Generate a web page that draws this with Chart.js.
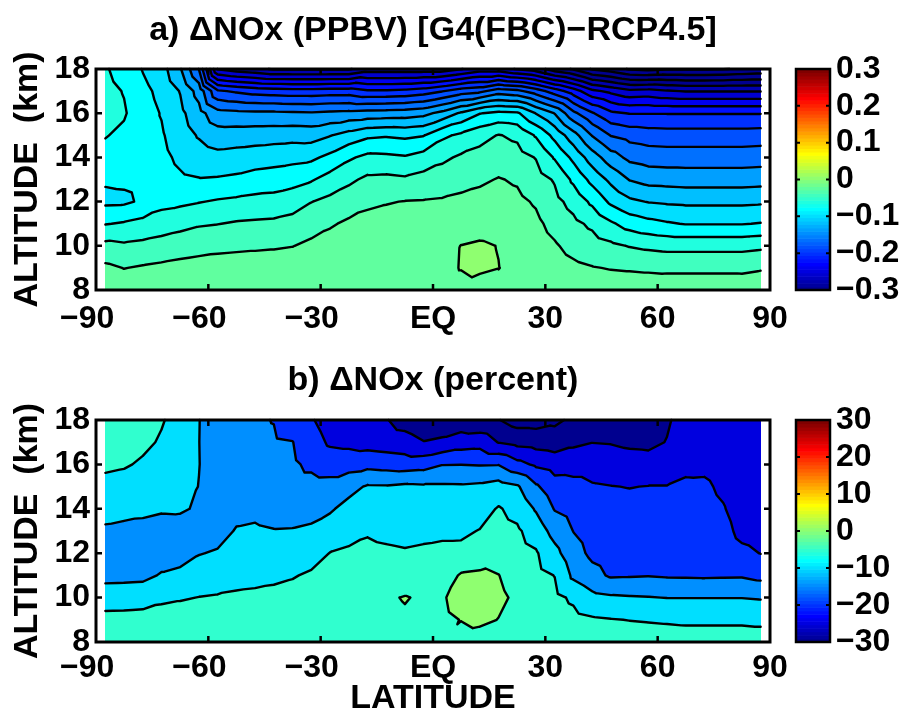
<!DOCTYPE html>
<html>
<head>
<meta charset="utf-8">
<title>NOx change</title>
<script src="https://cdn.jsdelivr.net/npm/chart.js@4.4.1/dist/chart.umd.min.js"></script>
<style>
  html, body { margin: 0; padding: 0; background: #fff; }
  #panels { position: relative; width: 903px; height: 713px; }
  #panels canvas { position: absolute; left: 0; }
</style>
</head>
<body>
<div id="panels">
  <canvas id="ppbvChart" width="903" height="356" style="top:0"></canvas>
  <canvas id="pctChart" width="903" height="357" style="top:356px"></canvas>
</div>
<script>
// model grid
var latitudes = [-87.5, -82.5, -77.5, -72.5, -67.5, -62.5, -57.5, -52.5, -47.5, -42.5, -37.5, -32.5,
  -27.5, -22.5, -17.5, -12.5, -7.5, -2.5, 2.5, 7.5, 12.5, 17.5, 22.5, 27.5,
  32.5, 37.5, 42.5, 47.5, 52.5, 57.5, 62.5, 67.5, 72.5, 77.5, 82.5, 87.5];
var altitudes = [8, 9, 10, 11, 12, 13, 14, 15, 16, 17, 18];

// a) NOx change in ppbv, one row per latitude, altitudes 8..18 km
var noxPpbv = [
  [-0.006, -0.016, -0.0345, -0.061, -0.084, -0.078, -0.066, -0.059, -0.052, -0.054, -0.058],
  [-0.008, -0.0205, -0.037, -0.058, -0.0835, -0.077, -0.07, -0.064, -0.058, -0.061, -0.068],
  [-0.007, -0.018, -0.035, -0.054, -0.077, -0.075, -0.073, -0.072, -0.072, -0.075, -0.081],
  [-0.006, -0.016, -0.032, -0.05, -0.066, -0.071, -0.075, -0.078, -0.081, -0.085, -0.092],
  [-0.005, -0.014, -0.029, -0.046, -0.064, -0.077, -0.084, -0.09, -0.095, -0.101, -0.118],
  [-0.004, -0.012, -0.027, -0.042, -0.061, -0.079, -0.09, -0.102, -0.113, -0.128, -0.161],
  [-0.004, -0.011, -0.025, -0.0405, -0.058, -0.078, -0.094, -0.111, -0.133, -0.177, -0.261],
  [-0.004, -0.01, -0.024, -0.038, -0.056, -0.076, -0.092, -0.11, -0.135, -0.183, -0.27],
  [-0.004, -0.01, -0.023, -0.037, -0.054, -0.072, -0.09, -0.109, -0.136, -0.188, -0.275],
  [-0.004, -0.01, -0.022, -0.036, -0.053, -0.07, -0.088, -0.108, -0.136, -0.19, -0.282],
  [-0.004, -0.01, -0.0205, -0.033, -0.049, -0.067, -0.086, -0.107, -0.137, -0.192, -0.282],
  [-0.003, -0.008, -0.016, -0.028, -0.0405, -0.062, -0.084, -0.108, -0.138, -0.192, -0.282],
  [-0.003, -0.007, -0.013, -0.022, -0.035, -0.052, -0.075, -0.101, -0.136, -0.19, -0.282],
  [-0.003, -0.006, -0.011, -0.017, -0.029, -0.044, -0.063, -0.092, -0.134, -0.19, -0.282],
  [-0.003, -0.006, -0.01, -0.015, -0.023, -0.036, -0.055, -0.084, -0.132, -0.197, -0.27],
  [-0.002, -0.005, -0.009, -0.014, -0.021, -0.035, -0.056, -0.082, -0.131, -0.197, -0.27],
  [-0.002, -0.005, -0.009, -0.014, -0.0195, -0.037, -0.058, -0.084, -0.13, -0.195, -0.27],
  [-0.001, -0.004, -0.008, -0.013, -0.019, -0.033, -0.052, -0.081, -0.126, -0.19, -0.27],
  [-0.004, -0.003, -0.006, -0.011, -0.018, -0.03, -0.044, -0.064, -0.114, -0.181, -0.27],
  [-0.004, 0.0005, 0.0003, -0.008, -0.016, -0.026, -0.037, -0.056, -0.097, -0.17, -0.261],
  [-0.008, 0.003, 0.0025, -0.008, -0.014, -0.023, -0.033, -0.047, -0.081, -0.165, -0.25],
  [-0.004, 0.0003, -0.0005, -0.009, -0.014, -0.019, -0.029, -0.039, -0.075, -0.15, -0.25],
  [-0.003, -0.004, -0.007, -0.011, -0.016, -0.022, -0.032, -0.044, -0.077, -0.155, -0.262],
  [-0.004, -0.007, -0.011, -0.016, -0.022, -0.031, -0.041, -0.062, -0.101, -0.17, -0.27],
  [-0.006, -0.011, -0.018, -0.026, -0.034, -0.042, -0.062, -0.086, -0.121, -0.19, -0.29],
  [-0.008, -0.016, -0.026, -0.035, -0.047, -0.064, -0.085, -0.112, -0.155, -0.21, -0.302],
  [-0.008, -0.019, -0.031, -0.044, -0.064, -0.086, -0.11, -0.141, -0.178, -0.235, -0.322],
  [-0.009, -0.021, -0.036, -0.057, -0.084, -0.105, -0.131, -0.161, -0.196, -0.245, -0.33],
  [-0.009, -0.022, -0.041, -0.068, -0.096, -0.121, -0.145, -0.167, -0.201, -0.255, -0.342],
  [-0.009, -0.023, -0.044, -0.074, -0.101, -0.127, -0.149, -0.17, -0.201, -0.253, -0.345],
  [-0.008, -0.024, -0.046, -0.078, -0.103, -0.128, -0.15, -0.171, -0.201, -0.258, -0.342],
  [-0.008, -0.024, -0.046, -0.081, -0.104, -0.129, -0.15, -0.171, -0.201, -0.261, -0.342],
  [-0.008, -0.024, -0.046, -0.081, -0.104, -0.129, -0.15, -0.171, -0.201, -0.261, -0.342],
  [-0.008, -0.024, -0.046, -0.081, -0.104, -0.129, -0.15, -0.171, -0.201, -0.261, -0.341],
  [-0.009, -0.024, -0.046, -0.081, -0.104, -0.129, -0.15, -0.171, -0.201, -0.261, -0.338],
  [-0.006, -0.022, -0.044, -0.079, -0.103, -0.128, -0.149, -0.17, -0.201, -0.261, -0.335]
];

// b) NOx change in percent, same layout
var noxPercent = [
  [-1.5, -3.5, -7.3, -11.5, -12.0, -10.6, -8.6, -6.3, -4.2, -3.2, -2.8],
  [-1.5, -3.4, -7.2, -11.4, -12.2, -11.0, -8.8, -6.6, -4.6, -3.6, -3.2],
  [-1.5, -3.2, -7.0, -11.2, -12.3, -11.1, -9.2, -7.2, -5.5, -4.2, -3.8],
  [-1.4, -2.9, -5.9, -9.6, -12.2, -11.5, -9.6, -8.0, -6.9, -5.4, -4.7],
  [-1.3, -2.8, -5.4, -8.8, -12.0, -11.8, -9.5, -8.3, -7.6, -7.0, -6.4],
  [-1.2, -2.6, -4.9, -7.8, -10.2, -11.4, -10.5, -10.1, -9.9, -9.95, -9.9],
  [-1.1, -2.5, -4.6, -7.4, -9.6, -11.5, -12.2, -12.5, -12.5, -12.5, -12.5],
  [-1.0, -2.4, -4.3, -6.5, -8.6, -9.7, -11.2, -12.5, -13.3, -13.8, -14.0],
  [-1.0, -2.3, -4.1, -6.2, -8.0, -9.4, -11.0, -12.8, -13.8, -14.4, -14.6],
  [-0.9, -2.2, -3.9, -5.8, -7.8, -9.8, -11.8, -13.2, -14.0, -14.6, -15.1],
  [-0.9, -2.0, -3.5, -5.3, -7.6, -9.7, -12.0, -13.6, -14.4, -14.9, -17.0],
  [-0.8, -1.8, -3.0, -4.4, -6.8, -9.2, -11.6, -13.6, -15.8, -17.6, -19.5],
  [-0.8, -1.6, -2.6, -3.7, -4.9, -7.7, -10.6, -13.5, -17.0, -20.8, -22.5],
  [-0.7, -1.5, -2.4, -3.4, -4.4, -6.3, -8.4, -11.6, -17.0, -21.3, -23.5],
  [-0.7, -1.4, -2.2, -3.1, -4.0, -5.4, -7.6, -9.5, -16.5, -22.0, -24.5],
  [-0.6, -1.3, -0.6, -3.0, -4.3, -6.0, -7.8, -9.6, -17.0, -22.5, -24.7],
  [-0.6, -0.6, 0.25, -3.0, -4.6, -6.3, -8.0, -9.0, -17.5, -23.0, -27.0],
  [-0.5, -1.1, -0.6, -3.0, -4.3, -6.0, -7.7, -9.3, -17.0, -24.8, -28.5],
  [-0.4, -0.8, -0.4, -2.5, -4.0, -5.8, -7.5, -9.3, -15.2, -24.0, -28.5],
  [-1.5, 0.1, 1.5, 0.5, -3.9, -5.8, -7.6, -9.4, -15.1, -22.5, -28.0],
  [-2.0, 0.9, 2.0, 0.9, -3.0, -4.8, -7.0, -9.0, -15.3, -22.0, -29.0],
  [-1.2, -0.1, 0.9, 0.1, -2.0, -3.4, -4.6, -8.0, -15.2, -25.2, -29.8],
  [-1.2, -1.5, -0.8, -2.0, -3.2, -4.3, -6.5, -9.4, -18.5, -26.5, -32.0],
  [-1.3, -2.0, -2.8, -3.6, -4.5, -7.2, -10.5, -14.3, -20.8, -27.0, -32.0],
  [-1.8, -2.7, -3.8, -5.1, -8.5, -11.8, -15.3, -18.0, -22.0, -27.5, -31.0],
  [-2.2, -3.6, -5.8, -11.0, -13.2, -15.1, -16.8, -18.6, -21.8, -26.0, -29.0],
  [-2.4, -4.4, -8.6, -13.5, -16.0, -17.0, -18.0, -19.6, -21.8, -25.1, -27.5],
  [-2.5, -4.8, -9.3, -15.6, -17.0, -17.8, -18.8, -19.9, -22.2, -25.3, -27.5],
  [-2.6, -5.1, -9.6, -15.4, -17.2, -18.0, -18.9, -20.1, -22.6, -26.0, -28.0],
  [-2.8, -5.3, -9.8, -15.2, -17.3, -18.0, -18.9, -19.9, -23.0, -26.2, -28.5],
  [-2.9, -5.5, -10.1, -15.5, -17.4, -18.1, -19.0, -19.9, -22.0, -24.8, -25.6],
  [-3.0, -5.7, -10.1, -15.6, -17.2, -17.9, -18.6, -19.4, -20.8, -22.0, -23.0],
  [-3.0, -5.7, -10.1, -15.7, -17.2, -17.9, -18.6, -19.3, -20.9, -22.2, -23.2],
  [-3.0, -5.7, -10.1, -15.6, -17.5, -18.6, -19.7, -20.8, -21.8, -22.6, -23.4],
  [-3.0, -5.7, -10.1, -15.5, -19.0, -21.2, -22.0, -22.6, -23.0, -23.5, -24.0],
  [-3.0, -5.9, -10.4, -16.4, -20.1, -21.8, -22.5, -23.0, -23.4, -23.8, -24.2]
];

var ppbvLevels = [-0.34, -0.32, -0.30, -0.28, -0.26, -0.24, -0.22, -0.20, -0.18, -0.16, -0.14,
  -0.12, -0.10, -0.08, -0.06, -0.04, -0.02, 0];
var percentLevels = [-35, -30, -25, -20, -15, -10, -5, 0];
var ppbvLimits = [-0.3, 0.3];
var percentLimits = [-30, 30];

var latTicks = [-90, -60, -30, 0, 30, 60, 90];
var altTicks = [8, 10, 12, 14, 16, 18];
var ppbvTicks = [-0.3, -0.2, -0.1, 0, 0.1, 0.2, 0.3];
var percentTicks = [-30, -20, -10, 0, 10, 20, 30];

var FONT = '"Liberation Sans", Arial, Helvetica, sans-serif';
var MINUS = '\u2212';

Chart.defaults.color = '#000';
Chart.defaults.font.family = FONT;
Chart.defaults.font.weight = 'bold';

// MATLAB style 64 entry jet colormap, row k = 1..64
function jetRow(k) {
  var r = k <= 24 ? 0 : k <= 40 ? (k - 24) / 16 : k <= 56 ? 1 : 1 - (k - 56) / 16;
  var g = k <= 8 ? 0 : k <= 24 ? (k - 8) / 16 : k <= 40 ? 1 : k <= 56 ? (56 - k) / 16 : 0;
  var b = k <= 8 ? (k + 8) / 16 : k <= 24 ? 1 : k <= 40 ? (40 - k) / 16 : 0;
  return [Math.round(r * 255), Math.round(g * 255), Math.round(b * 255)];
}

function jetColor(value, limits) {
  var k = Math.floor((value - limits[0]) / (limits[1] - limits[0]) * 64) + 1;
  return jetRow(Math.min(64, Math.max(1, k)));
}

// filled bands, linear inside the two triangles of every grid cell
function drawField(chart, field, levels, limits) {
  var area = chart.chartArea, xs = chart.scales.x, ys = chart.scales.y;
  var x0 = Math.round(area.left), y0 = Math.round(area.top);
  var w = Math.round(area.right) - x0, h = Math.round(area.bottom) - y0;
  var off = document.createElement('canvas');
  off.width = w; off.height = h;
  var octx = off.getContext('2d');
  var img = octx.createImageData(w, h);
  var colors = levels.map(function(l) { return jetColor(l, limits); });
  var latMin = latitudes[0], latMax = latitudes[latitudes.length - 1];
  var dLat = latitudes[1] - latitudes[0], dAlt = altitudes[1] - altitudes[0];
  var nLat = latitudes.length, nAlt = altitudes.length;

  for (var py = 0; py < h; py++) {
    var alt = ys.getValueForPixel(y0 + py + 0.5);
    var fyAll = (alt - altitudes[0]) / dAlt;
    var j = Math.min(Math.max(Math.floor(fyAll), 0), nAlt - 2);
    var fy = Math.min(Math.max(fyAll - j, 0), 1);
    for (var px = 0; px < w; px++) {
      var lat = xs.getValueForPixel(x0 + px + 0.5);
      if (lat < latMin || lat > latMax) continue;
      var fxAll = (lat - latMin) / dLat;
      var i = Math.min(Math.floor(fxAll), nLat - 2);
      var fx = fxAll - i;
      var za = field[i][j], zb = field[i + 1][j], zc = field[i + 1][j + 1], zd = field[i][j + 1];
      var z = fx >= fy ? za + fx * (zb - za) + fy * (zc - zb)
                       : za + fy * (zd - za) + fx * (zc - zd);
      var k = 0;
      while (k < levels.length - 1 && z >= levels[k + 1]) k++;
      var c = colors[k], p = (py * w + px) * 4;
      img.data[p] = c[0]; img.data[p + 1] = c[1]; img.data[p + 2] = c[2]; img.data[p + 3] = 255;
    }
  }
  octx.putImageData(img, 0, 0);
  chart.ctx.drawImage(off, x0, y0);
}

function edgePoint(u, v, level) {
  var t = (level - u.z) / (v.z - u.z);
  return { x: u.x + t * (v.x - u.x), y: u.y + t * (v.y - u.y) };
}

function triSegment(ctx, xs, ys, p, q, r, level) {
  var pts = [];
  [[p, q], [q, r], [r, p]].forEach(function(e) {
    if ((e[0].z >= level) !== (e[1].z >= level)) pts.push(edgePoint(e[0], e[1], level));
  });
  if (pts.length !== 2) return;
  ctx.moveTo(xs.getPixelForValue(pts[0].x), ys.getPixelForValue(pts[0].y));
  ctx.lineTo(xs.getPixelForValue(pts[1].x), ys.getPixelForValue(pts[1].y));
}

// contour lines on the same triangles
function drawContours(chart, field, levels) {
  var ctx = chart.ctx, xs = chart.scales.x, ys = chart.scales.y;
  ctx.save();
  ctx.beginPath();
  levels.forEach(function(level) {
    for (var i = 0; i < latitudes.length - 1; i++) {
      for (var j = 0; j < altitudes.length - 1; j++) {
        var a = { x: latitudes[i], y: altitudes[j], z: field[i][j] };
        var b = { x: latitudes[i + 1], y: altitudes[j], z: field[i + 1][j] };
        var c = { x: latitudes[i + 1], y: altitudes[j + 1], z: field[i + 1][j + 1] };
        var d = { x: latitudes[i], y: altitudes[j + 1], z: field[i][j + 1] };
        triSegment(ctx, xs, ys, a, b, c, level);
        triSegment(ctx, xs, ys, a, c, d, level);
      }
    }
  });
  ctx.strokeStyle = '#000';
  ctx.lineWidth = 2.4;
  ctx.lineCap = 'round';
  ctx.lineJoin = 'round';
  ctx.stroke();
  ctx.restore();
}

// box with inward ticks on all four sides
function drawFrame(chart) {
  var a = chart.chartArea, ctx = chart.ctx, xs = chart.scales.x, ys = chart.scales.y;
  ctx.save();
  ctx.strokeStyle = '#000';
  ctx.lineWidth = 2.5;
  ctx.beginPath();
  latTicks.forEach(function(v) {
    if (v <= xs.min || v >= xs.max) return;
    var x = xs.getPixelForValue(v);
    ctx.moveTo(x, a.bottom); ctx.lineTo(x, a.bottom - 6);
    ctx.moveTo(x, a.top); ctx.lineTo(x, a.top + 6);
  });
  altTicks.forEach(function(v) {
    if (v <= ys.min || v >= ys.max) return;
    var y = ys.getPixelForValue(v);
    ctx.moveTo(a.left, y); ctx.lineTo(a.left + 6, y);
    ctx.moveTo(a.right, y); ctx.lineTo(a.right - 6, y);
  });
  ctx.stroke();
  ctx.lineWidth = 3;
  ctx.strokeRect(a.left, a.top, a.right - a.left, a.bottom - a.top);
  ctx.restore();
}

function drawColorbar(chart, limits, ticks) {
  var cb = chart.scales.cb, ctx = chart.ctx;
  var left = chart.chartArea.right + 26, width = 34;
  var span = limits[1] - limits[0];
  ctx.save();
  for (var k = 0; k < 64; k++) {
    var yLow = cb.getPixelForValue(limits[0] + k / 64 * span);
    var yHigh = cb.getPixelForValue(limits[0] + (k + 1) / 64 * span);
    var c = jetRow(k + 1);
    ctx.fillStyle = 'rgb(' + c.join(',') + ')';
    ctx.fillRect(left, yHigh, width, yLow - yHigh + 0.6);
  }
  var top = cb.getPixelForValue(limits[1]), bottom = cb.getPixelForValue(limits[0]);
  ctx.strokeStyle = '#000';
  ctx.lineWidth = 2;
  ctx.beginPath();
  ticks.forEach(function(v) {
    if (v <= limits[0] || v >= limits[1]) return;
    var y = cb.getPixelForValue(v);
    ctx.moveTo(left, y); ctx.lineTo(left + 4, y);
    ctx.moveTo(left + width, y); ctx.lineTo(left + width - 4, y);
  });
  ctx.stroke();
  ctx.lineWidth = 2.5;
  ctx.strokeRect(left, top, width, bottom - top);
  ctx.restore();
}

function contourPlugin(field, levels, limits, cbTicks) {
  return {
    id: 'contourField',
    beforeDatasetsDraw: function(chart) {
      drawField(chart, field, levels, limits);
      drawContours(chart, field, levels);
    },
    afterDatasetsDraw: function(chart) {
      drawFrame(chart);
      drawColorbar(chart, limits, cbTicks);
    }
  };
}

function fixedTicks(values) {
  return function(scale) {
    scale.ticks = values.map(function(v) { return { value: v }; });
  };
}

// fixed side width; the label overhang must not squeeze the plot vertically
function fixedWidth(width) {
  return function(scale) {
    scale.width = width;
    scale.paddingTop = 0;
    scale.paddingBottom = 0;
  };
}

function latLabel(v) {
  if (v === 0) return 'EQ';
  // digits sit centred on the tick, the minus hangs to the left
  return v < 0 ? MINUS + (-v) + '  ' : String(v);
}

function makePanel(canvasId, cfg) {
  return new Chart(document.getElementById(canvasId), {
    type: 'scatter',
    data: { datasets: [] },
    options: {
      responsive: false,
      animation: false,
      devicePixelRatio: 1,
      layout: { padding: 0 },
      events: [],
      plugins: {
        legend: { display: false },
        tooltip: { enabled: false },
        title: {
          display: true,
          text: cfg.title,
          fullSize: false,
          color: '#000',
          font: { family: FONT, size: 34, weight: 'bold' },
          padding: cfg.titlePadding
        }
      },
      scales: {
        x: {
          type: 'linear', position: 'bottom', min: -90, max: 90,
          grid: { display: false, drawTicks: false },
          border: { display: false },
          afterBuildTicks: fixedTicks(latTicks),
          afterFit: function(scale) { scale.height = cfg.xHeight; },
          ticks: {
            autoSkip: false, maxRotation: 0, minRotation: 0,
            padding: cfg.xTickPadding,
            font: { family: FONT, size: 32, weight: 'bold' },
            callback: latLabel
          },
          title: {
            display: !!cfg.xTitle,
            text: cfg.xTitle || '',
            font: { family: FONT, size: 34, weight: 'bold', lineHeight: 1 },
            padding: { top: 0, bottom: -3 }
          }
        },
        y: {
          type: 'linear', position: 'left', min: 8, max: 18,
          grid: { display: false, drawTicks: false },
          border: { display: false },
          afterBuildTicks: fixedTicks(altTicks),
          afterFit: fixedWidth(96),
          ticks: {
            autoSkip: false, padding: 6,
            font: { family: FONT, size: 32, weight: 'bold' },
            callback: function(v) { return String(v); }
          },
          title: {
            display: true,
            text: 'ALTITUDE  (km)',
            font: { family: FONT, size: 34, weight: 'bold' },
            padding: { top: 7, bottom: 0 }
          }
        },
        cb: {
          type: 'linear', axis: 'y', position: 'right',
          min: cfg.limits[0], max: cfg.limits[1],
          grid: { display: false, drawTicks: false },
          border: { display: false },
          afterBuildTicks: fixedTicks(cfg.cbTicks),
          afterFit: fixedWidth(133),
          ticks: {
            autoSkip: false, padding: 66,
            font: { family: FONT, size: 32, weight: 'bold' },
            callback: cfg.cbLabel
          }
        }
      }
    },
    plugins: [contourPlugin(cfg.field, cfg.levels, cfg.limits, cfg.cbTicks)]
  });
}

makePanel('ppbvChart', {
  title: 'a) \u0394NOx (PPBV) [G4(FBC)' + MINUS + 'RCP4.5]',
  titlePadding: { top: 10, bottom: 18.2 },
  xHeight: 66,
  xTickPadding: 10,
  field: noxPpbv,
  levels: ppbvLevels,
  limits: ppbvLimits,
  cbTicks: ppbvTicks,
  cbLabel: function(v) {
    if (Math.abs(v) < 1e-9) return '0';
    return (v < 0 ? MINUS : '') + Math.abs(v).toFixed(1);
  }
});

makePanel('pctChart', {
  title: 'b) \u0394NOx (percent)',
  titlePadding: { top: 4, bottom: 19.2 },
  xHeight: 71,
  xTickPadding: 7,
  xTitle: 'LATITUDE',
  field: noxPercent,
  levels: percentLevels,
  limits: percentLimits,
  cbTicks: percentTicks,
  cbLabel: function(v) {
    return (v < 0 ? MINUS : '') + Math.abs(v);
  }
});
</script>
</body>
</html>
